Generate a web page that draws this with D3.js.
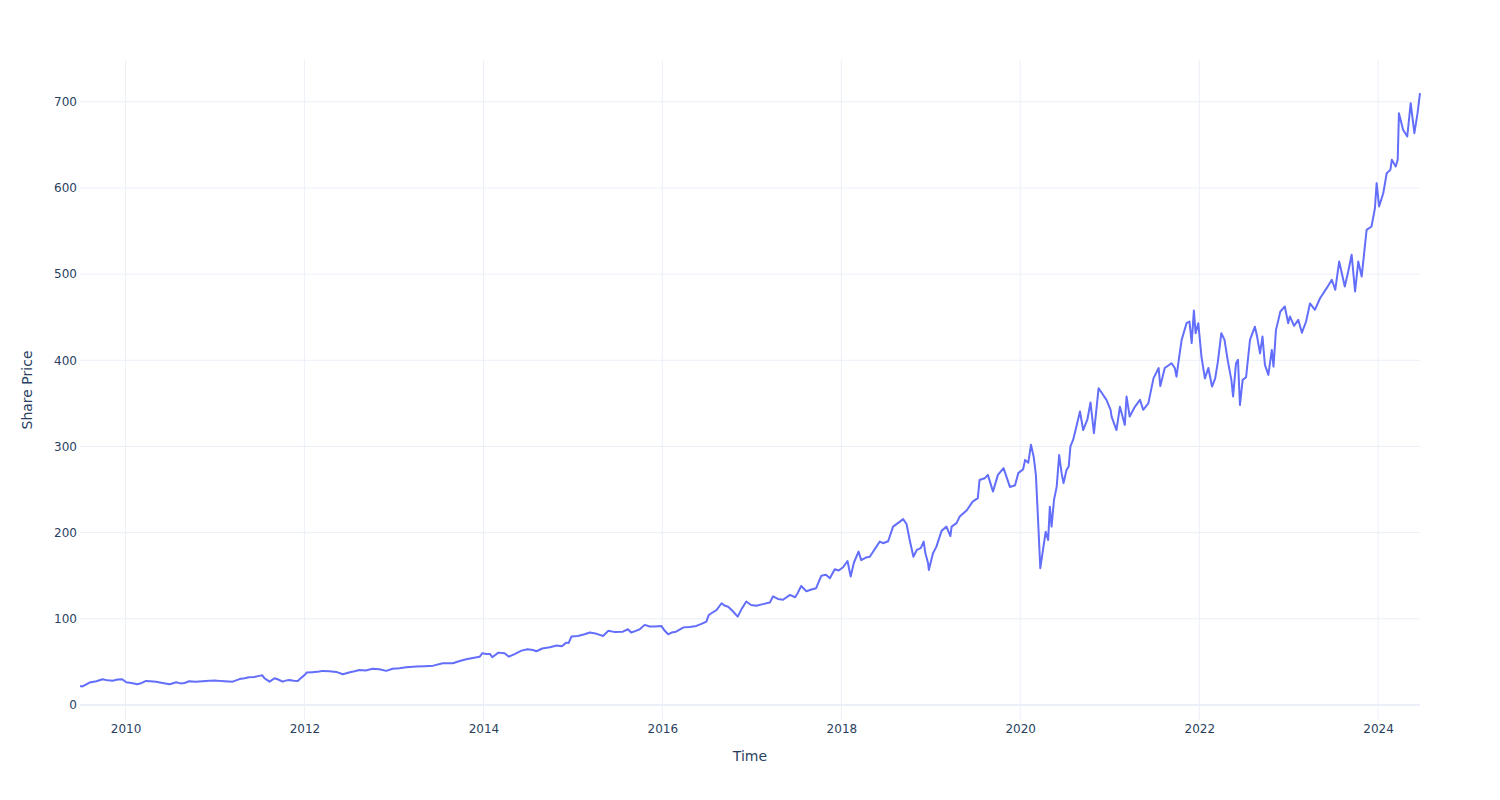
<!DOCTYPE html>
<html>
<head>
<meta charset="utf-8">
<script src="https://cdn.jsdelivr.net/npm/d3@7"></script>
<style>
  html, body { margin: 0; padding: 0; background: #fff; }
  svg { display: block; }
  text { font-family: "DejaVu Sans", verdana, arial, sans-serif; fill: #2a3f5f; }
</style>
</head>
<body>
<svg id="chart" width="1500" height="800"></svg>
<script>
const dates = [
"2009-06-29","2009-07-09","2009-08-07","2009-09-04","2009-09-29","2009-10-20","2009-11-09","2009-11-30","2009-12-18",
"2010-01-04","2010-01-25","2010-02-18","2010-03-08","2010-03-26","2010-04-12","2010-05-05","2010-06-01","2010-06-30","2010-07-27","2010-08-13","2010-08-30","2010-09-17","2010-10-14","2010-11-11","2010-12-10",
"2011-01-06","2011-02-09","2011-03-14","2011-04-11","2011-05-02","2011-05-20","2011-06-10","2011-07-01","2011-07-13","2011-07-22","2011-08-04","2011-08-12","2011-09-01","2011-09-16","2011-10-04","2011-10-20","2011-11-01","2011-11-18","2011-12-05","2011-12-20",
"2012-01-03","2012-01-10","2012-02-03","2012-03-02","2012-03-15","2012-04-13","2012-05-10","2012-06-06","2012-07-05","2012-07-24","2012-08-13","2012-09-07","2012-10-05","2012-11-02","2012-11-30","2012-12-26",
"2013-01-23","2013-02-20","2013-04-02","2013-05-06","2013-06-10","2013-07-19","2013-08-29","2013-09-26","2013-10-23","2013-11-18","2013-12-17","2013-12-27",
"2014-01-14","2014-01-27","2014-02-06","2014-03-03","2014-03-28","2014-04-15","2014-05-08","2014-06-05","2014-06-30","2014-07-22","2014-08-05","2014-08-29","2014-09-29","2014-10-27","2014-11-17","2014-12-05","2014-12-15","2014-12-26",
"2015-01-21","2015-02-18","2015-03-11","2015-04-03","2015-05-04","2015-05-26","2015-06-22","2015-07-24","2015-08-14","2015-08-27","2015-09-15","2015-10-01","2015-10-21","2015-11-11","2015-12-01","2015-12-28",
"2016-01-11","2016-01-25","2016-02-08","2016-02-26","2016-03-28","2016-04-22","2016-05-19","2016-06-09","2016-06-29","2016-07-08","2016-07-19","2016-08-09","2016-08-30","2016-09-13","2016-09-26","2016-10-14","2016-11-04","2016-11-21","2016-12-09","2016-12-28",
"2017-01-19","2017-02-14","2017-03-15","2017-03-28","2017-04-17","2017-05-08","2017-06-05","2017-06-26","2017-07-07","2017-07-21","2017-08-11","2017-09-01","2017-09-20","2017-10-11","2017-10-30","2017-11-15","2017-12-05","2017-12-21",
"2018-01-08","2018-01-26","2018-02-08","2018-02-21","2018-03-12","2018-03-23","2018-04-11","2018-04-27","2018-05-24","2018-06-07","2018-06-20","2018-07-11","2018-07-31","2018-08-28","2018-09-10","2018-09-24","2018-10-08","2018-10-22","2018-11-05","2018-11-21","2018-12-03","2018-12-10","2018-12-21","2018-12-24",
"2019-01-10","2019-01-24","2019-02-14","2019-03-06","2019-03-22","2019-03-27","2019-04-16","2019-04-29","2019-05-28","2019-06-21","2019-07-12","2019-07-19","2019-08-09","2019-08-22","2019-09-12","2019-10-02","2019-10-25","2019-11-20","2019-12-11","2019-12-24",
"2020-01-13","2020-01-21","2020-02-03","2020-02-14","2020-02-25","2020-03-05","2020-03-12","2020-03-18","2020-03-23","2020-04-03","2020-04-14","2020-04-24","2020-05-01","2020-05-08","2020-05-18","2020-05-29","2020-06-08","2020-06-18","2020-06-26","2020-07-08","2020-07-17","2020-07-24","2020-08-04","2020-08-14","2020-09-01","2020-09-14","2020-10-01","2020-10-14","2020-10-28","2020-11-16","2020-11-30","2020-12-18",
"2021-01-04","2021-01-08","2021-01-28","2021-02-11","2021-03-03","2021-03-10","2021-03-23","2021-04-13","2021-05-04","2021-05-17","2021-06-07","2021-06-28","2021-07-19","2021-07-26","2021-08-13","2021-09-10","2021-09-23","2021-09-30","2021-10-11","2021-10-21","2021-11-10","2021-11-22","2021-12-01","2021-12-10","2021-12-17","2021-12-28",
"2022-01-10","2022-01-24","2022-02-07","2022-02-22","2022-03-07","2022-03-18","2022-04-01","2022-04-14","2022-04-28","2022-05-12","2022-05-19","2022-05-31","2022-06-08","2022-06-16","2022-06-27","2022-07-11","2022-07-27","2022-08-16","2022-08-25","2022-09-06","2022-09-16","2022-09-26","2022-10-10","2022-10-24","2022-10-31","2022-11-10","2022-11-28","2022-12-16","2022-12-30",
"2023-01-06","2023-01-23","2023-02-09","2023-02-24","2023-03-13","2023-03-29","2023-04-18","2023-05-09","2023-06-05","2023-06-26","2023-07-10","2023-07-26","2023-08-18","2023-09-01","2023-09-15","2023-09-29","2023-10-12","2023-10-26","2023-11-15","2023-12-05","2023-12-19","2023-12-26",
"2024-01-05","2024-01-22","2024-02-05","2024-02-20","2024-02-26","2024-03-13","2024-03-21","2024-03-26","2024-04-12","2024-04-29","2024-05-13","2024-05-28","2024-06-10","2024-06-20"
];
const prices = [
22,21.5,26,27.5,29.8,28.5,28,29.5,29.8,
26.3,25.5,24,25.5,27.9,27.5,27,25.5,24,26.3,25,25.5,27.5,27,27.5,28,
28.2,27.5,27,30,31,32,32.5,33.7,34.4,31,28.5,27,31,29.5,27,28.5,29,28,27.9,31.7,
35,37.5,38,38.7,39.5,39,38.3,35.6,38,39,40.6,40,42,41.4,39.5,42,
42.5,43.7,44.5,45,45.6,48.4,48.4,51,53,54.5,56,60,
59,59.2,55.4,60.7,60,56,59,63,64.5,63.8,62.3,65.5,67,69,68,72.3,72,79.3,
80,82,84,83,80,86,84.5,85,87.8,84,86,87.8,92.9,91,90.9,91.7,
86,82,84,85,90,90.5,91.7,94,96.7,104,106.4,110,118,115,114,109,102.5,112,120,116,
115,117,118.8,126,123,122,127.7,125,130,138,132,134,135.5,149.8,151,147,157.5,156,
159.8,167,149,165,178,168,171,172,183.7,189.6,187.7,190,207,212.8,215.6,210,190,172,180,182,189.6,176,164.5,156.7,
176,183.7,202,207,196,207,211,218.6,226,236,240,261,263,267,247.6,267,274.8,253,255,269,
273.6,284.4,281,302,288,267,226,189.6,158.7,180,201,191.5,230,207,238,253.4,290,269,257.4,272.8,276.7,300,307.6,319,340.5,319,331,351,315.4,367.6,361.7,354,
342.5,334.7,319,346,325,358,334.7,346,354,342.5,350,379,391,370,391,396.6,391,381,404,423.7,443,445,420,457.7,431.5,443,
404,379,391,369.5,379,398.5,431.5,423.7,398.5,377.3,358,396.6,400.5,348,377.3,380.3,423.7,439,427.5,408,427.5,394.7,383,412,392.7,435,456.6,462.4,443,
450.8,440,447,432,445,466,458.6,472,483.7,493.4,481.8,514.6,485.6,503,522.4,479.8,514.6,497.2,551.4,555.3,576.5,605.6,
578.5,593.9,617,621,632.7,625,632.7,686.8,667.5,659.7,698.4,663.6,686.8,710
];
const yTicks = [0, 100, 200, 300, 400, 500, 600, 700];
const xTickYears = ["2010","2012","2014","2016","2018","2020","2022","2024"];
const xTitle = "Time";
const yTitle = "Share Price";

const parse = d3.timeParse("%Y-%m-%d");
const data = dates.map((d, i) => ({ date: parse(d), value: prices[i] }));

const W = 1500, H = 800;
const margin = { left: 80, right: 80, top: 60, bottom: 80 };
const svg = d3.select("#chart");
const FONT = '"DejaVu Sans", verdana, arial, sans-serif';

const x = d3.scaleTime()
  .domain(d3.extent(data, d => d.date))
  .range([margin.left, W - margin.right]);
const y = d3.scaleLinear()
  .domain([-17.5, 748.5])
  .range([H - margin.bottom, margin.top]);

const gridColor = "#EBF0F8";
const xTickDates = xTickYears.map(s => d3.timeParse("%Y")(s));

// vertical grid
svg.append("g").selectAll("line").data(xTickDates).join("line")
  .attr("x1", d => x(d)).attr("x2", d => x(d))
  .attr("y1", margin.top).attr("y2", H - margin.bottom)
  .attr("stroke", gridColor).attr("stroke-width", 1);
// horizontal grid
svg.append("g").selectAll("line").data(yTicks.filter(v => v !== 0)).join("line")
  .attr("x1", margin.left).attr("x2", W - margin.right)
  .attr("y1", d => y(d)).attr("y2", d => y(d))
  .attr("stroke", gridColor).attr("stroke-width", 1);
// zero line
svg.append("line")
  .attr("x1", margin.left).attr("x2", W - margin.right)
  .attr("y1", y(0)).attr("y2", y(0))
  .attr("stroke", gridColor).attr("stroke-width", 2);

// axes
const xAxis = d3.axisBottom(x).tickValues(xTickDates).tickFormat(d3.timeFormat("%Y")).tickSize(0).tickPadding(4.5);
const gx = svg.append("g").attr("transform", `translate(0,${H - margin.bottom})`).call(xAxis);
gx.select(".domain").remove();
gx.selectAll("text").attr("font-size", 12).attr("fill", "#2a3f5f").style("font-family", FONT);

const yAxis = d3.axisLeft(y).tickValues(yTicks).tickSize(0).tickPadding(3);
const gy = svg.append("g").attr("transform", `translate(${margin.left},0)`).call(yAxis);
gy.select(".domain").remove();
gy.selectAll("text").attr("font-size", 12).attr("fill", "#2a3f5f").style("font-family", FONT);

// line
const line = d3.line().x(d => x(d.date)).y(d => y(d.value));
svg.append("path").datum(data)
  .attr("d", line)
  .attr("fill", "none")
  .attr("stroke", "#636efa")
  .attr("stroke-width", 2)
  .attr("stroke-linejoin", "round");

// titles
svg.append("text")
  .attr("x", (margin.left + W - margin.right) / 2)
  .attr("y", 761)
  .attr("text-anchor", "middle")
  .attr("font-size", 14)
  .style("font-family", FONT)
  .text(xTitle);
svg.append("text")
  .attr("transform", `translate(32,${(margin.top + H - margin.bottom) / 2}) rotate(-90)`)
  .attr("text-anchor", "middle")
  .attr("font-size", 14)
  .style("font-family", FONT)
  .text(yTitle);
</script>
</body>
</html>
